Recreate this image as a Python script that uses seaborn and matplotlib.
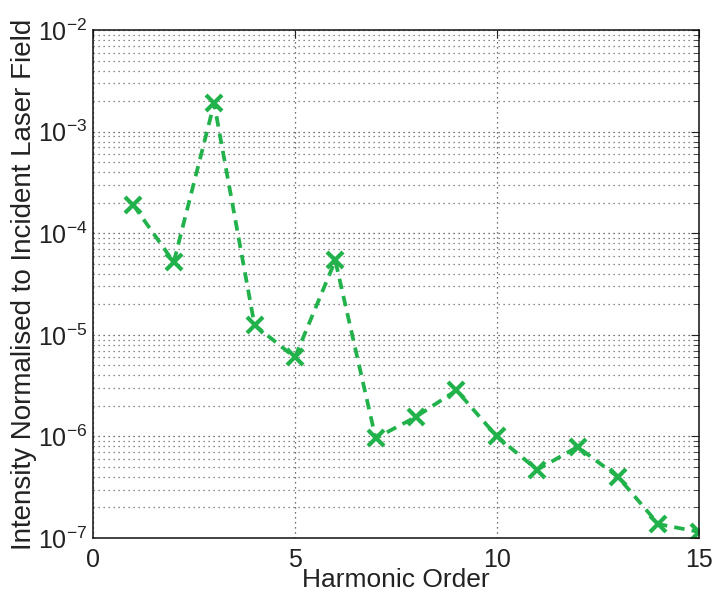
import numpy as np
import pandas as pd
import matplotlib
matplotlib.use("Agg")
import matplotlib.pyplot as plt
import matplotlib.ticker as mticker
import seaborn as sns

harmonic_order = [1, 2, 3, 4, 5, 6, 7, 8, 9, 10, 11, 12, 13, 14, 15]
intensity = [1.9e-4, 5.2e-5, 1.9e-3, 1.25e-5, 6.0e-6, 5.4e-5, 9.6e-7,
             1.56e-6, 2.85e-6, 1.0e-6, 4.7e-7, 7.9e-7, 4.0e-7, 1.37e-7, 1.15e-7]
x_ticks = [0, 5, 10, 15]
x_label = "Harmonic Order"
y_label = "Intensity Normalised to Incident Laser Field"

df = pd.DataFrame({"order": harmonic_order, "intensity": intensity})

sns.set_style("white")
plt.rcParams['font.family'] = ['Liberation Sans', 'DejaVu Sans']
plt.rcParams['mathtext.fontset'] = 'custom'
plt.rcParams['mathtext.rm'] = 'Liberation Sans'
plt.rcParams['mathtext.it'] = 'Liberation Sans'

fig = plt.figure(figsize=(7.13, 5.92), dpi=100)
ax = fig.add_axes([0.1304, 0.0912, 0.8496, 0.8578])

green = '#22b24c'
sns.lineplot(data=df, x="order", y="intensity", ax=ax, color=green,
             linestyle='--', linewidth=2.7, marker='x', markersize=12,
             markeredgewidth=3.0, markeredgecolor=green, dashes=False)
ax.lines[0].set_linestyle((0, (2.8, 1.9)))

ax.set_yscale('log')
ax.set_xlim(0, 15)
ax.set_ylim(1e-7, 1e-2)
ax.set_xticks(x_ticks)
ax.yaxis.set_major_locator(mticker.LogLocator(base=10, numticks=10))
ax.yaxis.set_minor_locator(mticker.LogLocator(base=10, subs=np.arange(2, 10), numticks=20))
ax.yaxis.set_minor_formatter(mticker.NullFormatter())

ax.grid(True, which='major', axis='both', linestyle=(0, (1, 3)), color='#444444', linewidth=0.9)
ax.grid(True, which='minor', axis='y', linestyle=(0, (1, 3)), color='#666666', linewidth=0.9)
ax.set_axisbelow(True)

ax.tick_params(which='both', direction='in', top=True, right=True, colors='#222222')
ax.tick_params(axis='x', labelsize=18, pad=7)
ax.tick_params(axis='y', labelsize=18, pad=4)
ax.tick_params(which='major', length=6, width=0.8)
ax.tick_params(which='minor', length=3.5, width=0.6)
for s in ax.spines.values():
    s.set_color('#111111')
    s.set_linewidth(1.1)

ax.set_xlabel(x_label, fontsize=19, color='#222222', labelpad=-2.5)
ax.set_ylabel(y_label, fontsize=20, color='#222222')
ax.yaxis.set_label_coords(-0.093, 0.5)

fig.savefig("out.png", dpi=100)
